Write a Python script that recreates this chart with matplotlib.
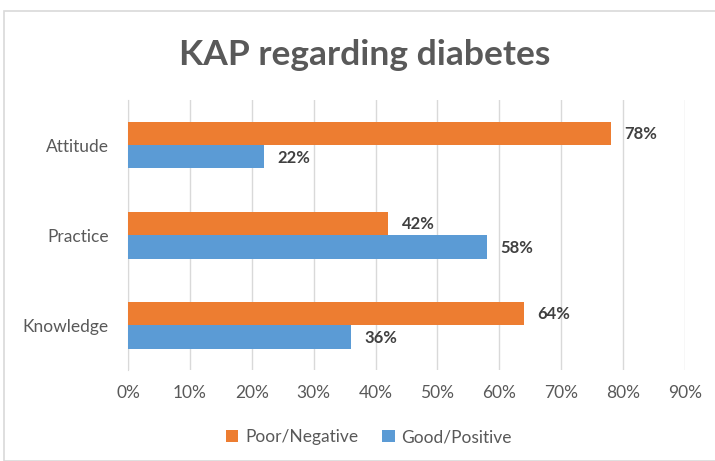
import matplotlib
matplotlib.use('Agg')
import matplotlib.pyplot as plt
from matplotlib.patches import Rectangle
import numpy as np

plt.rcParams['font.family'] = ['Lato', 'DejaVu Sans']

# data
categories = ['Knowledge', 'Practice', 'Attitude']
poor_negative = [64, 42, 78]
good_positive = [36, 58, 22]
x_ticks = [0, 10, 20, 30, 40, 50, 60, 70, 80, 90]

orange = '#ED7D31'
blue = '#5B9BD5'

fig = plt.figure(figsize=(7.15, 4.61), dpi=100)
ax = fig.add_axes([0.179, 0.197, 0.779, 0.586])

# light grey frame round the whole chart
fig.patches.append(Rectangle((4 / 715, 0.0), 1.0, 1 - 11 / 461, transform=fig.transFigure,
                             fill=False, edgecolor='#D9D9D9', linewidth=1.2))

y = np.arange(len(categories))
h = 0.26
ax.barh(y + h / 2, poor_negative, height=h, color=orange, label='Poor/Negative', zorder=3)
ax.barh(y - h / 2, good_positive, height=h, color=blue, label='Good/Positive', zorder=3)

# bold value labels
for i in range(len(categories)):
    ax.text(poor_negative[i] + 2.2, y[i] + h / 2 - 0.01, f'{poor_negative[i]}%', va='center', ha='left',
            fontsize=12, fontweight='bold', color='#404040')
    ax.text(good_positive[i] + 2.2, y[i] - h / 2 - 0.01, f'{good_positive[i]}%', va='center', ha='left',
            fontsize=12, fontweight='bold', color='#404040')

ax.set_xlim(0, 90)
ax.set_ylim(-0.5, 2.5)
ax.set_xticks(x_ticks)
ax.set_xticklabels([f'{t}%' for t in x_ticks])
ax.set_yticks(y)
ax.set_yticklabels(categories)
ax.tick_params(axis='both', length=0, labelsize=12.5, labelcolor='#595959')
ax.tick_params(axis='x', pad=11)
ax.tick_params(axis='y', pad=14)
ax.grid(axis='x', color='#D9D9D9', linewidth=1, zorder=0)
for s in ['top', 'right', 'bottom']:
    ax.spines[s].set_visible(False)
ax.spines['left'].set_color('#D9D9D9')

fig.text(0.51, 0.88, 'KAP regarding diabetes', ha='center', va='center',
         fontsize=25.5, fontweight='bold', color='#595959')

handles, labels = ax.get_legend_handles_labels()
fig.legend(handles, labels, loc='center', bbox_to_anchor=(0.516, 0.052), ncol=2, frameon=False,
           fontsize=12.5, labelcolor='#595959', handlelength=0.7, handleheight=0.7,
           handletextpad=0.4, columnspacing=1.4)

fig.savefig('out.png', dpi=100)
